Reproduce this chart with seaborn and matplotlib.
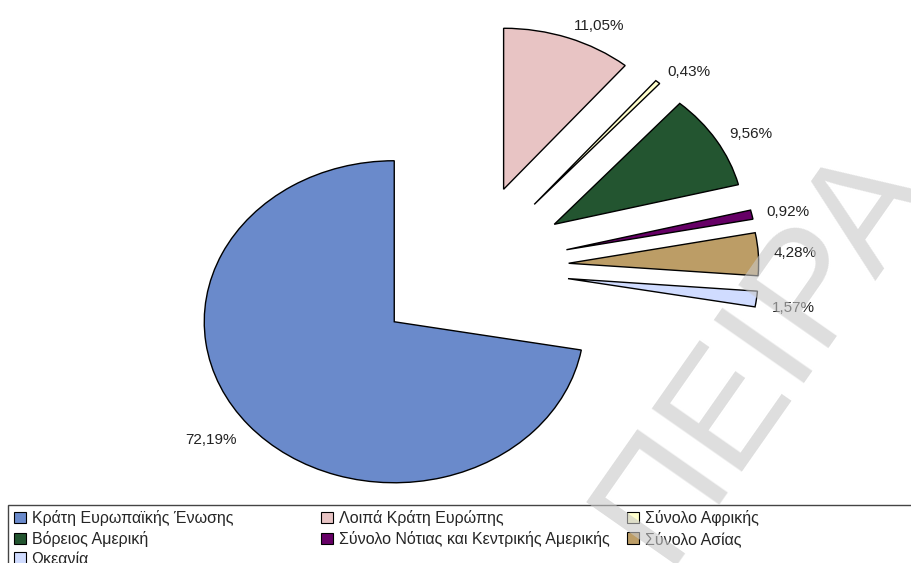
import matplotlib
matplotlib.use("Agg")
import matplotlib.pyplot as plt
from matplotlib.patches import Patch, Rectangle
import seaborn as sns

# data
regions = ["Κράτη Ευρωπαϊκής Ένωσης", "Λοιπά Κράτη Ευρώπης", "Σύνολο Αφρικής",
           "Βόρειος Αμερική", "Σύνολο Νότιας και Κεντρικής Αμερικής", "Σύνολο Ασίας",
           "Ωκεανία"]
shares = [72.19, 11.05, 0.43, 9.56, 0.92, 4.28, 1.57]
colors = ["#6a8acb", "#e8c4c4", "#ffffcc", "#235530", "#660066", "#bc9d66", "#d0dcff"]
pct_labels = [f"{v:.2f}%".replace(".", ",") for v in shares]

sns.set_theme(style="white")
plt.rcParams["font.family"] = ["Liberation Sans", "DejaVu Sans"]

W, H = 912, 563
fig = plt.figure(figsize=(W / 100, H / 100), dpi=100)
ax = fig.add_axes([0, 0, 1, 1])

# pie geometry in pixels: centre and horizontal / vertical radius (flattened pie)
cx, cy, rx, ry = 470, 268, 190, 161
start = 90 - 360 + 360 * shares[0] / sum(shares)

wedges, texts = ax.pie(
    shares, colors=colors, explode=[0.52] * len(shares),
    startangle=start, counterclock=False,
    labels=pct_labels, labeldistance=1.08,
    wedgeprops=dict(edgecolor="black", linewidth=1),
    textprops=dict(fontsize=11, color="#222222"))
# labels under the horizontal sit a little lower, as in the original
for t in texts:
    if t.get_position()[1] < 0:
        t.set_va("top")
ax.set_aspect("auto")
ax.set_xlim(-cx / rx, (W - cx) / rx)
ax.set_ylim(-(H - cy) / ry, cy / ry)
ax.axis("off")

# legend: 3 columns, filled row by row
handles = [Patch(facecolor=c, edgecolor="black", linewidth=0.8) for c in colors]
col_x = [14, 321, 627]
for i, x0 in enumerate(col_x):
    idx = list(range(i, len(regions), 3))
    fig.legend([handles[j] for j in idx], [regions[j] for j in idx],
               loc="upper left", bbox_to_anchor=(x0 / W, 1 - 510 / H),
               frameon=False, borderpad=0, borderaxespad=0,
               handlelength=0.75, handleheight=0.75, handletextpad=0.35,
               labelspacing=0.31, fontsize=11.5)

fig.add_artist(Rectangle((8 / W, -0.1), 1.1, (H - 505) / H + 0.1,
                         transform=fig.transFigure, fill=False,
                         edgecolor="#444444", linewidth=1))

# watermark
fig.text(663 / W, 1 - 565 / H, "ΠΕΙΡΑ", fontsize=115, rotation=55,
         rotation_mode="anchor", ha="left", va="baseline",
         color="#c8c8c8", alpha=0.6, zorder=10)

fig.savefig("out.png", dpi=100)
